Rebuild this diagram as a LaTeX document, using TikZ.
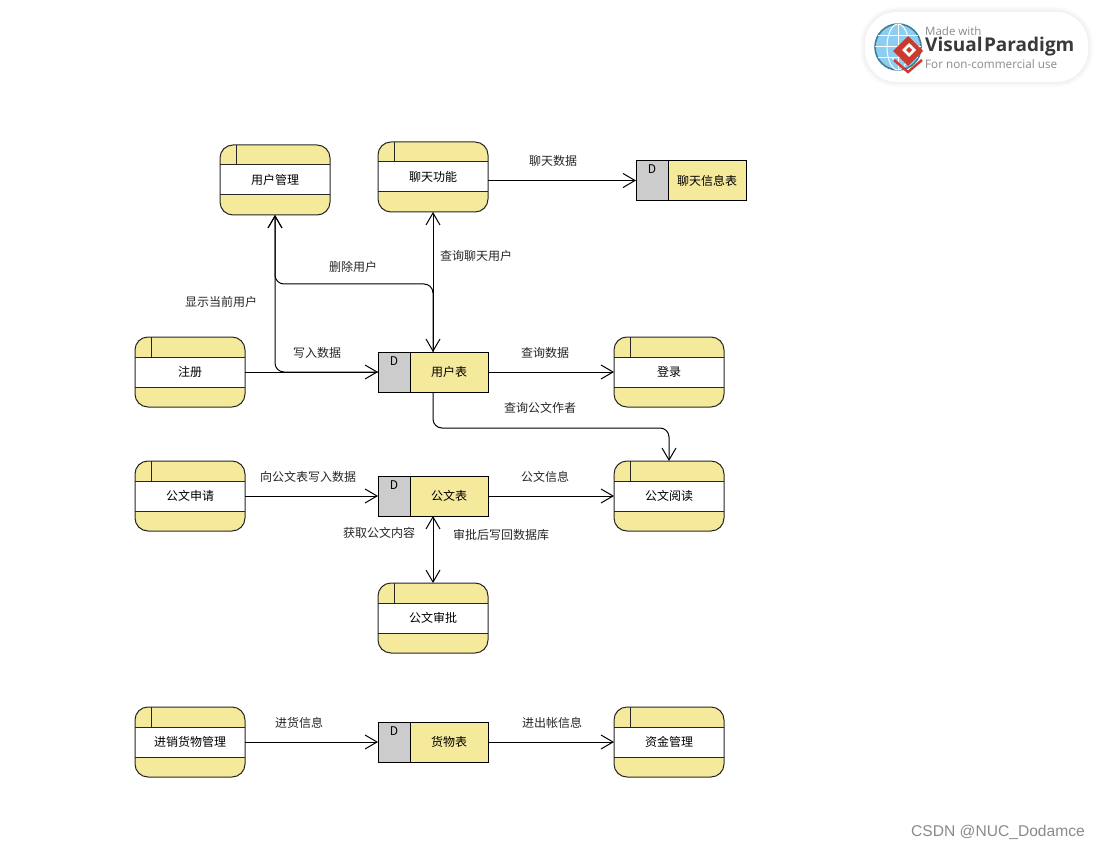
\documentclass[tikz,border=0pt]{standalone}
\usepackage{fontspec}
\setmainfont{Noto Sans CJK SC}
\newfontfamily\logofont{Open Sans}
\newfontfamily\markfont{Liberation Sans}
\usepackage{xcolor}
\usetikzlibrary{arrows.meta,calc}
\definecolor{band}{HTML}{F5E99B}
\definecolor{slot}{HTML}{CCCCCC}
\definecolor{muted}{HTML}{8A8A8A}
\definecolor{globe}{HTML}{8CCDF0}
\definecolor{globeline}{HTML}{3E7F98}
\definecolor{logored}{HTML}{CC3A2E}
\definecolor{logotext}{HTML}{3A3A3A}
\tikzset{
  processbox/.style={draw=black!85,line width=1pt,fill=band,rounded corners=13pt,minimum width=110pt,minimum height=70pt,inner sep=0pt,outer sep=0pt,font=\fontsize{12}{14}\selectfont,
    path picture={
      \begin{scope}[sharp corners]
      \fill[white] ([yshift=-20pt]path picture bounding box.north west) rectangle ([yshift=20pt]path picture bounding box.south east);
      \draw[line width=1pt] ([yshift=-20pt]path picture bounding box.north west) -- ([yshift=-20pt]path picture bounding box.north east);
      \draw[line width=1pt] ([yshift=20pt]path picture bounding box.south west) -- ([yshift=20pt]path picture bounding box.south east);
      \draw[line width=1pt] ([xshift=16pt]path picture bounding box.north west) -- ([xshift=16pt,yshift=-20pt]path picture bounding box.north west);
      \end{scope}
    }},
  dmark/.style={font=\fontsize{12}{14}\selectfont,inner sep=0pt,xshift=-39pt,yshift=11pt},
  storebox/.style={draw=black,line width=1pt,fill=band,minimum width=110pt,minimum height=40pt,inner sep=0pt,outer sep=0pt,font=\fontsize{12}{14}\selectfont,
    label={[dmark]center:D},
    path picture={
      \fill[slot] (path picture bounding box.north west) rectangle ([xshift=32pt]path picture bounding box.south west);
      \draw[line width=1pt] ([xshift=32pt]path picture bounding box.north west) -- ([xshift=32pt]path picture bounding box.south west);
    }},
  flow/.style={draw=black,line width=1pt,-{Straight Barb[length=12pt,width=14pt]}},
  twoway/.style={draw=black,line width=1pt,{Straight Barb[length=12pt,width=14pt]}-{Straight Barb[length=12pt,width=14pt]}},
  flowtext/.style={font=\fontsize{12}{14}\selectfont,inner sep=0pt,text=black!85,yshift=-0.7pt},
}
\begin{document}
\begin{tikzpicture}[x=1pt,y=-1pt]
  \useasboundingbox (0,0) rectangle (1100,850);
  % processes
  \node[processbox] (usermgr) at (275,180) {用户管理};
  \node[processbox] (chat) at (433,177) {聊天功能};
  \node[processbox] (register) at (190,372) {注册};
  \node[processbox] (login) at (669,372) {登录};
  \node[processbox] (docapply) at (190,496) {公文申请};
  \node[processbox] (docread) at (669,496) {公文阅读};
  \node[processbox] (docaudit) at (433,618) {公文审批};
  \node[processbox] (goods) at (190,742) {进销货物管理};
  \node[processbox] (funds) at (669,742) {资金管理};
  % data stores
  \node[storebox] (chatdb) at (691,180.5) {\hspace{32pt}聊天信息表};
  \node[storebox] (userdb) at (433,372) {\hspace{32pt}用户表};
  \node[storebox] (docdb) at (433,496) {\hspace{32pt}公文表};
  \node[storebox] (goodsdb) at (433,742) {\hspace{32pt}货物表};
  % flows
  \draw[flow] (chatdb.west -| chat.east) -- (chatdb.west);
  \draw[twoway] (userdb.north) -- (chat.south);
  \draw[flow,rounded corners=9pt] (userdb.north) -- (433,284) -- (275,284) -- (usermgr.south);
  \draw[flow,rounded corners=9pt] (userdb.west) -- (275,372) -- (usermgr.south);
  \draw[flow] (register.east) -- (userdb.west);
  \draw[flow] (userdb.east) -- (login.west);
  \draw[flow,rounded corners=9pt] (userdb.south) -- (433,428) -- (669,428) -- (docread.north);
  \draw[flow] (docapply.east) -- (docdb.west);
  \draw[flow] (docdb.east) -- (docread.west);
  \draw[twoway] (docdb.south) -- (docaudit.north);
  \draw[flow] (goods.east) -- (goodsdb.west);
  \draw[flow] (goodsdb.east) -- (funds.west);
  % flow labels
  \node[flowtext] (tchat) at (553,160) {聊天数据};
  \node[flowtext] (tquery) at (476,255) {查询聊天用户};
  \node[flowtext] (tdelete) at (353,266) {删除用户};
  \node[flowtext] (tshow) at (221,301) {显示当前用户};
  \node[flowtext] (twrite) at (317,352) {写入数据};
  \node[flowtext] (tlogin) at (545,352) {查询数据};
  \node[flowtext] (tauthor) at (540,407) {查询公文作者};
  \node[flowtext] (tapply) at (308,476) {向公文表写入数据};
  \node[flowtext] (tinfo) at (545,476) {公文信息};
  \node[flowtext] (tcontent) at (379,532) {获取公文内容};
  \node[flowtext] (taudit) at (501,534) {审批后写回数据库};
  \node[flowtext] (tgoods) at (299,722) {进货信息};
  \node[flowtext] (tfunds) at (552,722) {进出帐信息};
  % logo
  \foreach \w/\o in {10/.015,7/.015,4/.02}
    \draw[black,opacity=\o,line width=\w pt,rounded corners=32pt] (865,12) rectangle (1088,82);
  \fill[white,rounded corners=32pt] (865,12) rectangle (1088,82);
  \fill[globe] (898,47) circle (23);
  \draw[globeline,line width=1.6pt] (898,47) circle (23);
  \draw[white,line width=1pt] (875,47) -- (921,47) (878,36) -- (918,36) (878,58) -- (918,58) (898,24) -- (898,70);
  \draw[white,line width=1pt] (898,47) ellipse (11 and 23);
  \fill[logored] (908,36) -- (923,51) -- (908,66) -- (893,51) -- cycle;
  \draw[white,line width=1pt] (892,58) -- (908,73) -- (924,58);
  \draw[logored,line width=2.5pt] (894,60) -- (908,72) -- (922,60);
  \fill[white] (909,43) -- (916,50) -- (909,57) -- (902,50) -- cycle;
  \fill[logored] (909,47) -- (912,50) -- (909,53) -- (906,50) -- cycle;
  \node[anchor=west,inner sep=0pt,font=\logofont\fontsize{11.5}{13}\selectfont,text=muted] (logotop) at (925,31) {Made with};
  \node[anchor=west,inner sep=0pt,font=\logofont\bfseries\fontsize{19}{20}\selectfont,text=logotext] (logomain) at (925,47) {Visual\kern1.5pt Paradigm};
  \node[anchor=west,inner sep=0pt,font=\logofont\fontsize{11.7}{13}\selectfont,text=muted] (logosub) at (925,64) {For non-commercial use};
  % watermark
  \node[anchor=east,inner sep=0pt,font=\markfont\fontsize{15.6}{18}\selectfont,text=muted] (watermark) at (1085,832) {CSDN @NUC\_Dodamce};
\end{tikzpicture}
\end{document}
